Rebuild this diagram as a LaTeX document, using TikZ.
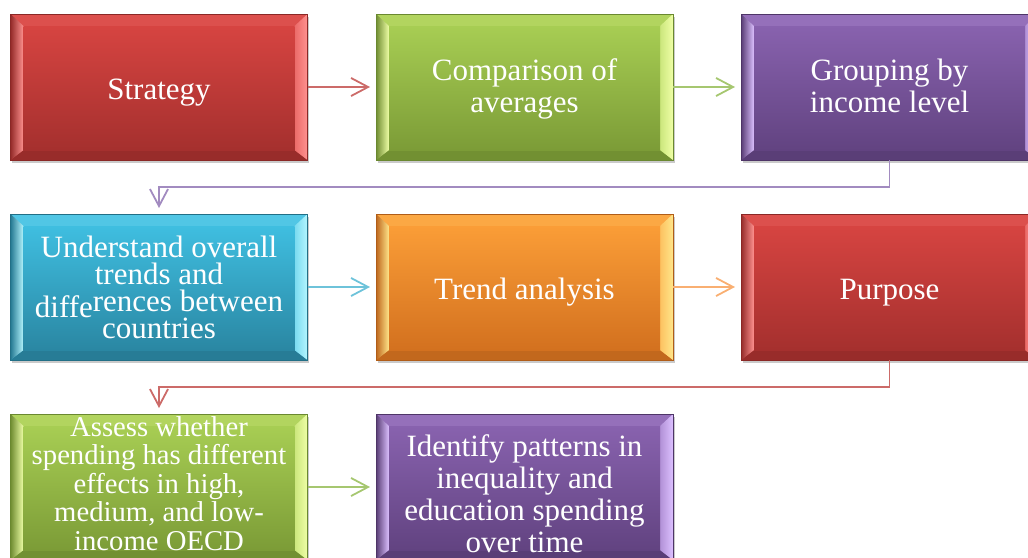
\documentclass[tikz,border=0pt]{standalone}
\usepackage{fontspec}
\setmainfont{Liberation Serif}
\usetikzlibrary{arrows.meta,calc,shadows}

% lines inside the labels keep their set baseline distance
\lineskiplimit=-100pt

% box colour families: face top, face bottom, bevel highlight, outline
\definecolor{redtop}{HTML}{D64441}
\definecolor{redbot}{HTML}{A5302E}
\definecolor{redhi}{HTML}{FF9290}
\definecolor{rededge}{HTML}{8A2826}
\definecolor{greentop}{HTML}{A7CD53}
\definecolor{greenbot}{HTML}{7C9C37}
\definecolor{greenhi}{HTML}{EFFFA6}
\definecolor{greenedge}{HTML}{6A8830}
\definecolor{purpletop}{HTML}{8862AE}
\definecolor{purplebot}{HTML}{624381}
\definecolor{purplehi}{HTML}{DCC0FF}
\definecolor{purpleedge}{HTML}{4E3567}
\definecolor{bluetop}{HTML}{3FBEE0}
\definecolor{bluebot}{HTML}{2A87A3}
\definecolor{bluehi}{HTML}{B4F6FF}
\definecolor{blueedge}{HTML}{226F86}
\definecolor{orangetop}{HTML}{FA9D37}
\definecolor{orangebot}{HTML}{D3711F}
\definecolor{orangehi}{HTML}{FFE68A}
\definecolor{orangeedge}{HTML}{B05D18}
% connector colours
\definecolor{redline}{HTML}{CC6B69}
\definecolor{greenline}{HTML}{A6C770}
\definecolor{purpleline}{HTML}{A28BC0}
\definecolor{blueline}{HTML}{6EC3DA}
\definecolor{orangeline}{HTML}{F9AF72}

\tikzset{
  bevelbox/.style={
    draw=#1edge, line width=0.8pt, fill=#1top,
    minimum width=297pt, minimum height=146pt, inner sep=0pt, outer sep=0pt,
    drop shadow={shadow xshift=1.5pt, shadow yshift=-2.5pt, opacity=0.35, fill=black!60},
    path picture={
      \coordinate (NW) at (path picture bounding box.north west);
      \coordinate (NE) at (path picture bounding box.north east);
      \coordinate (SE) at (path picture bounding box.south east);
      \coordinate (SW) at (path picture bounding box.south west);
      \coordinate (iNW) at ($(NW)+(13,-12)$);
      \coordinate (iNE) at ($(NE)+(-13,-12)$);
      \coordinate (iSE) at ($(SE)+(-13,10)$);
      \coordinate (iSW) at ($(SW)+(13,10)$);
      \fill[#1top!85!#1hi] (NW) -- (NE) -- (iNE) -- (iNW) -- cycle;
      \fill[#1bot!92!black] (SW) -- (SE) -- (iSE) -- (iSW) -- cycle;
      \shade[left color=#1bot!90!black, right color=#1hi] (NW) -- (iNW) -- (iSW) -- (SW) -- cycle;
      \shade[left color=#1top!50!#1hi, right color=#1hi] (NE) -- (iNE) -- (iSE) -- (SE) -- cycle;
      \shade[top color=#1top, bottom color=#1bot] (iNW) rectangle (iSE);
    }
  },
  txt/.style={text=white, align=center, inner sep=0pt, yshift=-2.5pt,
    font=\fontsize{31}{32}\selectfont,
    execute at begin node={\vrule width 0pt height 27pt depth 0pt},
    execute at end node={\vrule width 0pt height 0pt depth 7pt}},
  conn/.style={draw=#1, line width=1.8pt, -{Straight Barb[length=17pt,width=18pt]}}
}

\begin{document}
\begin{tikzpicture}[x=1pt,y=1pt]
\useasboundingbox (0,0) rectangle (1028,-557);
\clip (0,0) rectangle (1028,-557);

% boxes
\node[bevelbox=red]    (s1) at (159,-87)    {};
\node[bevelbox=green]  (s2) at (524.5,-87)  {};
\node[bevelbox=purple] (s3) at (889.5,-87)  {};
\node[bevelbox=blue]   (s4) at (159,-287)   {};
\node[bevelbox=orange] (s5) at (524.5,-287) {};
\node[bevelbox=red]    (s6) at (889.5,-287) {};
\node[bevelbox=green]  (s7) at (159,-487)   {};
\node[bevelbox=purple] (s8) at (524.5,-487) {};

% labels
\node[txt] (t1) at (s1) {Strategy};
\node[txt] (t2) at (s2) {Comparison of\\averages};
\node[txt] (t3) at (s3) {Grouping by\\income level};
\node[txt, font=\fontsize{31}{27}\selectfont] (t4) at ([yshift=-1pt]s4.center)
  {Understand overall\\trends and\\\raisebox{-6pt}[0pt][0pt]{diffe}rences between\\countries};
\node[txt] (t5) at (s5) {Trend analysis};
\node[txt] (t6) at (s6) {Purpose};
\node[txt, font=\fontsize{28.7}{28.5}\selectfont] (t7) at ([yshift=2.5pt]s7.center)
  {Assess whether\\spending has different\\effects in high,\\medium, and low-\\income OECD};
\node[txt] (t8) at ([yshift=-8pt]s8.center)
  {Identify patterns in\\inequality and\\education spending\\over time};

% connectors
\draw[conn=redline]    (s1.east) -- ([xshift=-6pt]s2.west);
\draw[conn=greenline]  (s2.east) -- ([xshift=-6pt]s3.west);
\draw[conn=purpleline] (s3.south) -- ++(0,-27) -| ([yshift=6pt]s4.north);
\draw[conn=blueline]   (s4.east) -- ([xshift=-6pt]s5.west);
\draw[conn=orangeline] (s5.east) -- ([xshift=-6pt]s6.west);
\draw[conn=redline]    (s6.south) -- ++(0,-27) -| ([yshift=6pt]s7.north);
\draw[conn=greenline]  (s7.east) -- ([xshift=-6pt]s8.west);
\end{tikzpicture}
\end{document}
